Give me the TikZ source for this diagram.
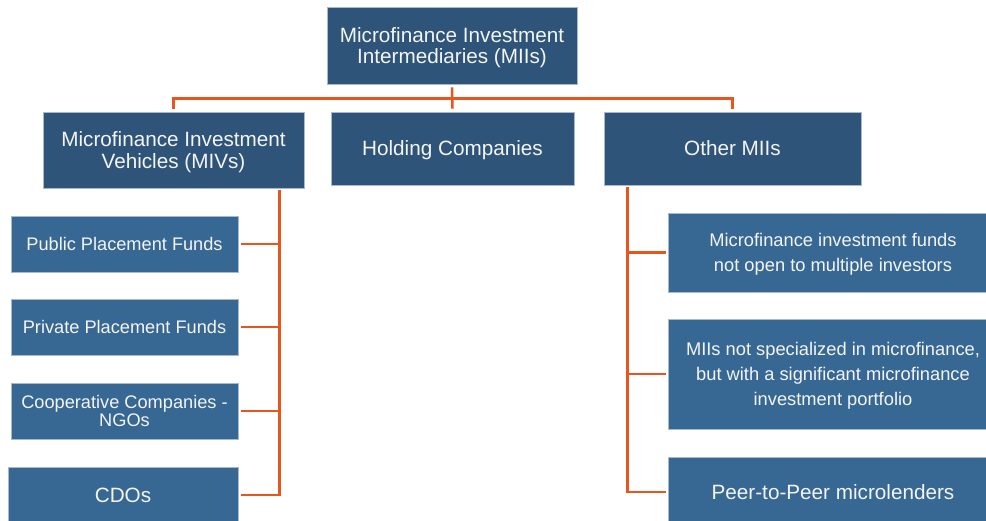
\documentclass[tikz,border=0pt]{standalone}
\usepackage{fontspec}
\setmainfont{Liberation Sans}
\usetikzlibrary{calc}
\definecolor{boxdark}{HTML}{2E5579}
\definecolor{boxlight}{HTML}{376894}
\definecolor{edgeblue}{HTML}{A7BACD}
\definecolor{conn}{HTML}{E8561E}
\definecolor{txt}{HTML}{F4F4F4}
\tikzset{
  base/.style={rectangle, inner sep=0pt, align=center, text=txt, draw=edgeblue, line width=0.9pt, text depth=0pt},
  topbox/.style={base, fill=boxdark, font=\fontsize{20.7}{21.5}\selectfont},
  leafbox/.style={base, fill=boxlight, font=\fontsize{18.2}{18}\selectfont},
  bigleaf/.style={base, fill=boxlight, font=\fontsize{20.7}{22}\selectfont},
  rightbox/.style={base, fill=boxlight, font=\fontsize{18.3}{25}\selectfont},
  connector/.style={draw=conn, line width=2.5pt},
}
\begin{document}
\begin{tikzpicture}[x=1pt,y=-1pt]
\useasboundingbox (0,0) rectangle (986,521);
\clip (0,0) rectangle (986,521);
\fill[white] (0,0) rectangle (986,521);
% level 0
\node[topbox, minimum width=250pt, minimum height=77pt] (top) at (452,45.5) {Microfinance Investment\\Intermediaries (MIIs)};
% level 1
\node[topbox, minimum width=261pt, minimum height=76pt] (mivs) at (173.5,150) {Microfinance Investment\\Vehicles (MIVs)};
\node[topbox, minimum width=243pt, minimum height=73pt] (hold) at (452.5,148.5) {Holding Companies};
\node[topbox, minimum width=257pt, minimum height=73pt] (other) at (732.5,148.5) {Other MIIs};
% left leaves
\node[leafbox, minimum width=227pt, minimum height=56pt] (pub) at (124.5,244) {Public Placement Funds};
\node[leafbox, minimum width=227pt, minimum height=56pt] (priv) at (124.5,327) {Private Placement Funds};
\node[leafbox, minimum width=227pt, minimum height=56pt] (coop) at (124.5,411) {Cooperative Companies -\\NGOs};
\node[bigleaf, minimum width=230pt, minimum height=56pt] (cdo) at (123,495) {CDOs};
% right leaves
\node[rightbox, minimum width=330pt, minimum height=79pt] (r1) at (833,252.5) {Microfinance investment funds\\not open to multiple investors};
\node[rightbox, minimum width=330pt, minimum height=110pt] (r2) at (833,374) {MIIs not specialized in microfinance,\\but with a significant microfinance\\investment portfolio};
\node[bigleaf, minimum width=330pt, minimum height=70pt] (r3) at (833,492) {Peer-to-Peer microlenders};
% connectors top
\coordinate (bus) at ($(top.south)+(0,14)$);
\draw[connector] ($(top.south)+(0,3)$) -- ($(hold.north)+(0,-3)$);
\draw[connector] ($(mivs.north)+(0,-3)$) |- (bus) -| ($(other.north)+(0,-3)$);
% MIVs branches
\coordinate (mv) at ($(mivs.south east)+(-25,1.5)$);
\draw[connector] (mv) |- ($(pub.east)+(3,0)$);
\draw[connector] (mv) |- ($(priv.east)+(3,0)$);
\draw[connector] (mv) |- ($(coop.east)+(3,0)$);
\draw[connector] (mv) |- ($(cdo.east)+(3,0)$);
% Other MIIs branches
\coordinate (om) at ($(other.south west)+(24,1.5)$);
\draw[connector] (om) |- ($(r1.west)+(-2,0)$);
\draw[connector] (om) |- ($(r2.west)+(-2,0)$);
\draw[connector] (om) |- ($(r3.west)+(-2,0)$);
\end{tikzpicture}
\end{document}
